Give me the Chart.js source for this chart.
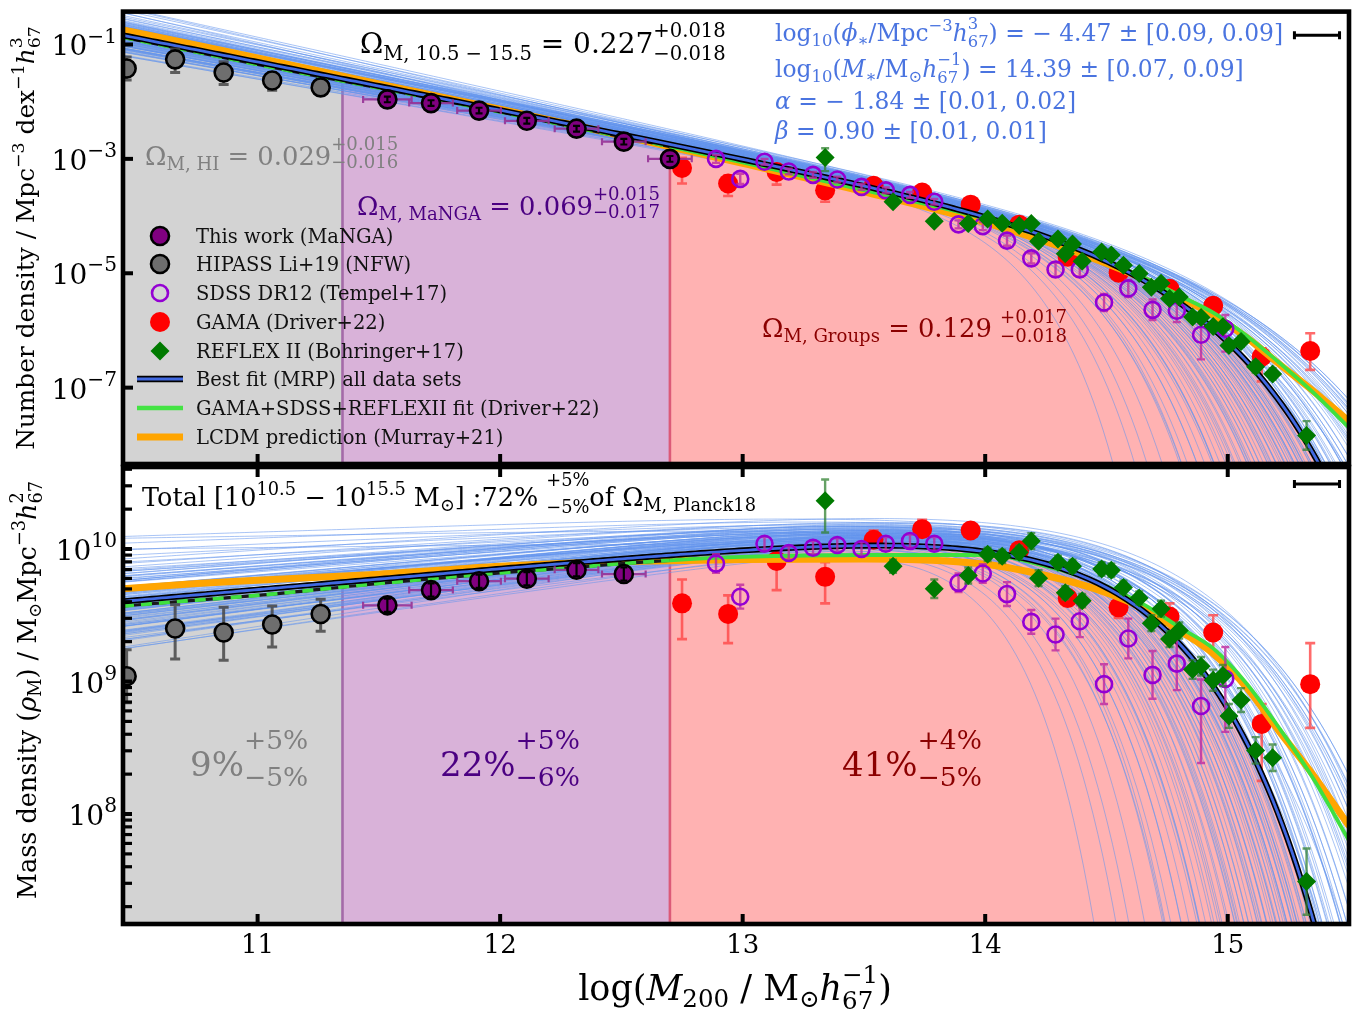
<!DOCTYPE html>
<html>
<head>
<meta charset="utf-8">
<script src="https://cdn.jsdelivr.net/npm/chart.js@4.4.0/dist/chart.umd.min.js"></script>
<style>
  body { margin: 0; background: #fff; }
  #wrap { position: relative; width: 1366px; height: 1015px; }
  #wrap canvas { position: absolute; left: 0; top: 0; }
</style>
</head>
<body>
<div id="wrap">
  <canvas id="numberPanel" width="1366" height="1015"></canvas>
  <canvas id="massPanel" width="1366" height="1015"></canvas>
</div>
<script>
const FONT = '"DejaVu Serif", "Liberation Serif", serif';
Chart.defaults.font.family = FONT;

const X_MIN = 10.445, X_MAX = 15.5;

// best fit MRP parameters (all data sets)
const fitLogPhi = -4.47, fitLogMstar = 14.39, fitAlpha = -1.84, fitBeta = 0.90;

// mass ranges: HI / MaNGA / groups
const regionEdges = [X_MIN, 11.35, 12.70, X_MAX];
const regionColors = ['#d3d3d3', '#d9b2d9', '#ffb2b2'];
const regionEdgeColors = [null, '#a46aa8', '#dc5a78'];

// HIPASS Li+19 (NFW), log10 mass density
const hipassX = [10.46, 10.66, 10.86, 11.06, 11.26];
const hipassRho = [9.04, 9.40, 9.37, 9.43, 9.51];
const hipassLo = [0.20, 0.23, 0.21, 0.17, 0.13];
const hipassHi = [0.20, 0.18, 0.19, 0.14, 0.11];

// This work (MaNGA)
const mangaX = [11.535, 11.715, 11.913, 12.11, 12.315, 12.51, 12.70];
const mangaRho = [9.575, 9.69, 9.757, 9.776, 9.843, 9.811, 9.70];
const mangaXErr = [0.10, 0.09, 0.09, 0.09, 0.09, 0.09, 0.09];
const mangaYErr = [0.05, 0.05, 0.05, 0.05, 0.05, 0.05, 0.05];
const mangaMassCount = 6;

// SDSS DR12 (Tempel+17)
const sdssX = [12.89, 12.99, 13.09, 13.19, 13.29, 13.39, 13.49, 13.59, 13.69, 13.79, 13.89,
               13.99, 14.09, 14.19, 14.29, 14.39, 14.49, 14.59, 14.69, 14.79, 14.89, 14.99];
const sdssRho = [9.89, 9.64, 10.04, 9.97, 10.01, 10.03, 10.00, 10.04, 10.06, 10.04, 9.745,
                 9.815, 9.66, 9.45, 9.355, 9.455, 8.98, 9.325, 9.05, 9.135, 8.815, 9.02];
const sdssLo = [0.07, 0.09, 0.05, 0.05, 0.05, 0.05, 0.05, 0.05, 0.05, 0.05, 0.07,
                0.07, 0.09, 0.09, 0.12, 0.12, 0.15, 0.15, 0.18, 0.20, 0.43, 0.40];
const sdssHi = [0.07, 0.09, 0.05, 0.05, 0.05, 0.05, 0.05, 0.05, 0.05, 0.05, 0.07,
                0.07, 0.09, 0.09, 0.12, 0.12, 0.15, 0.15, 0.18, 0.20, 0.20, 0.24];

// GAMA (Driver+22)
const gamaX = [12.75, 12.94, 13.14, 13.34, 13.54, 13.74, 13.94, 14.14, 14.34, 14.55, 14.76, 14.94, 15.14, 15.34];
const gamaRho = [9.59, 9.51, 9.91, 9.79, 10.07, 10.15, 10.14, 9.99, 9.63, 9.56, 9.49, 9.37, 8.68, 8.98];
const gamaLo = [0.27, 0.22, 0.22, 0.20, 0.06, 0.05, 0.05, 0.05, 0.06, 0.08, 0.10, 0.15, 0.43, 0.33];
const gamaHi = [0.18, 0.14, 0.10, 0.11, 0.07, 0.07, 0.05, 0.05, 0.06, 0.08, 0.10, 0.13, 0.15, 0.31];

// REFLEX II (Bohringer+17)
const reflexX = [13.34, 13.62, 13.79, 13.93, 14.01, 14.07, 14.14, 14.19, 14.22, 14.30, 14.33, 14.36, 14.40, 14.48, 14.52,
                 14.57, 14.635, 14.685, 14.725, 14.76, 14.80, 14.855, 14.89, 14.94, 14.98, 15.005, 15.055, 15.115, 15.185, 15.325];
const reflexRho = [10.365, 9.87, 9.70, 9.80, 9.96, 9.945, 9.975, 10.06, 9.78, 9.90, 9.67, 9.87, 9.61, 9.85, 9.84,
                   9.71, 9.63, 9.44, 9.55, 9.32, 9.385, 9.09, 9.115, 9.01, 9.045, 8.74, 8.86, 8.48, 8.425, 7.49];
const reflexLo = [0.24, 0.05, 0.07, 0.06, 0.05, 0.05, 0.05, 0.06, 0.06, 0.05, 0.05, 0.05, 0.05, 0.05, 0.05,
                  0.05, 0.05, 0.06, 0.06, 0.06, 0.06, 0.07, 0.07, 0.08, 0.08, 0.09, 0.09, 0.10, 0.10, 0.25];
const reflexHi = [0.16, 0.05, 0.07, 0.06, 0.05, 0.05, 0.05, 0.06, 0.06, 0.05, 0.05, 0.05, 0.05, 0.05, 0.05,
                  0.05, 0.05, 0.06, 0.06, 0.06, 0.06, 0.07, 0.07, 0.08, 0.08, 0.09, 0.09, 0.10, 0.10, 0.25];

// GAMA+SDSS+REFLEXII fit and LCDM prediction, log10 mass density
const curveX = [10.445, 10.75, 11.0, 11.5, 12.0, 12.3, 12.5, 12.7, 13.0, 13.5, 14.0, 14.25, 14.46,
                14.66, 14.8, 14.94, 15.08, 15.21, 15.35, 15.5];
const driverRho = [9.57, 9.615, 9.65, 9.74, 9.82, 9.86, 9.89, 9.915, 9.94, 9.955, 9.955, 9.87, 9.75,
                   9.575, 9.41, 9.25, 8.98, 8.655, 8.275, 7.80];
const lcdmRho = [9.70, 9.74, 9.765, 9.81, 9.87, 9.895, 9.905, 9.912, 9.92, 9.925, 9.885, 9.80, 9.695,
                 9.545, 9.385, 9.21, 8.95, 8.63, 8.30, 7.91];
const driverDashedBelow = 12.70;

// fit draws: mass density at the pivot mass, M*, alpha, beta
const PIVOT_X = 13.5;
const samplePivot = [10.07, 10.10, 10.03, 10.13, 10.05, 10.16, 10.01, 10.09, 10.12, 10.06, 10.18, 10.04, 10.11, 10.08,
  10.14, 10.02, 10.20, 10.07, 10.10, 10.15, 10.05, 10.09, 10.00, 10.17, 10.11, 10.08, 10.13, 10.04, 10.06, 10.19,
  10.10, 10.07, 10.12, 10.03, 10.16, 10.09, 10.23, 10.05, 10.14, 10.11,
  10.00, 10.06, 9.96, 10.10, 10.03, 9.93, 10.08, 10.01, 10.12, 9.98, 10.05, 10.02,
  10.08, 10.13, 10.05, 10.17, 10.10, 10.07, 10.20, 10.12, 10.15, 10.05, 10.18, 10.09, 10.14, 10.22,
  10.04, 9.98, 10.10, 10.02, 10.00, 10.07,
  10.08, 10.12, 10.04, 10.15, 10.06, 10.10, 10.02, 10.13, 10.09, 10.17, 10.05, 10.11, 10.07, 10.14, 10.03, 10.10,
  10.16, 10.08, 10.12, 10.06, 10.19, 10.09, 10.04, 10.13, 10.07, 10.11, 10.15, 10.05, 10.10, 10.08, 10.02, 10.14,
  10.06, 10.12, 10.09, 10.17];
const sampleMstar = [14.39, 14.42, 14.33, 14.47, 14.36, 14.50, 14.30, 14.44, 14.38, 14.34, 14.52, 14.31, 14.41, 14.37,
  14.46, 14.28, 14.55, 14.35, 14.40, 14.48, 14.32, 14.43, 14.27, 14.51, 14.39, 14.36, 14.45, 14.29, 14.38, 14.53,
  14.42, 14.34, 14.46, 14.30, 14.49, 14.40, 14.57, 14.33, 14.44, 14.41,
  14.05, 14.12, 13.95, 14.18, 14.08, 13.90, 14.15, 14.02, 14.20, 13.98, 14.10, 14.06,
  14.56, 14.59, 14.54, 14.61, 14.57, 14.55, 14.62, 14.58, 14.60, 14.53, 14.61, 14.56, 14.59, 14.62,
  14.30, 14.45, 14.40, 14.35, 14.50, 14.38,
  14.20, 14.25, 14.15, 14.30, 14.22, 14.18, 14.10, 14.28, 14.24, 14.32, 14.12, 14.26, 14.21, 14.29, 14.08, 14.23,
  14.34, 14.19, 14.27, 14.16, 14.36, 14.25, 14.14, 14.30, 14.20, 14.26, 14.33, 14.13, 14.24, 14.22, 14.05, 14.31,
  14.17, 14.28, 14.23, 14.35];
const sampleAlpha = [-1.79, -1.81, -1.76, -1.83, -1.78, -1.85, -1.75, -1.80, -1.82, -1.77, -1.86, -1.74, -1.81, -1.79,
  -1.84, -1.76, -1.87, -1.78, -1.80, -1.83, -1.77, -1.81, -1.73, -1.85, -1.79, -1.78, -1.82, -1.75, -1.80, -1.84,
  -1.81, -1.77, -1.83, -1.74, -1.86, -1.79, -1.88, -1.76, -1.82, -1.80,
  -1.81, -1.84, -1.78, -1.86, -1.82, -1.77, -1.85, -1.80, -1.87, -1.79, -1.83, -1.82,
  -1.86, -1.89, -1.83, -1.91, -1.85, -1.84, -1.93, -1.87, -1.90, -1.82, -1.92, -1.86, -1.88, -1.94,
  -1.72, -1.74, -1.97, -1.76, -1.98, -1.75,
  -1.80, -1.83, -1.77, -1.85, -1.79, -1.82, -1.76, -1.84, -1.81, -1.86, -1.78, -1.83, -1.80, -1.85, -1.77, -1.82,
  -1.87, -1.79, -1.83, -1.78, -1.88, -1.81, -1.77, -1.84, -1.80, -1.82, -1.86, -1.78, -1.81, -1.80, -1.76, -1.85,
  -1.79, -1.83, -1.81, -1.87];
const sampleBeta = [0.90, 0.88, 0.95, 0.85, 0.92, 0.84, 0.98, 0.87, 0.91, 0.94, 0.82, 0.97, 0.89, 0.93,
  0.86, 1.00, 0.80, 0.95, 0.90, 0.86, 0.96, 0.88, 1.02, 0.83, 0.91, 0.93, 0.87, 0.99, 0.92, 0.82,
  0.89, 0.94, 0.86, 0.97, 0.84, 0.90, 0.79, 0.95, 0.87, 0.89,
  1.25, 1.15, 1.45, 1.10, 1.30, 1.55, 1.18, 1.35, 1.08, 1.40, 1.22, 1.28,
  0.82, 0.80, 0.85, 0.79, 0.82, 0.84, 0.78, 0.81, 0.80, 0.85, 0.79, 0.83, 0.80, 0.78,
  0.95, 0.88, 0.86, 0.92, 0.85, 0.90,
  1.05, 1.00, 1.12, 0.98, 1.06, 1.10, 1.18, 1.00, 1.04, 0.96, 1.15, 1.02, 1.07, 0.99, 1.20, 1.05,
  0.95, 1.09, 1.01, 1.12, 0.94, 1.03, 1.14, 0.98, 1.06, 1.02, 0.96, 1.16, 1.04, 1.07, 1.22, 0.97,
  1.11, 1.00, 1.05, 0.95];

// typical mass error bar, top right corner of each panel
const massBarX = 15.368, massBarHalf = 0.093;
const massBarY = { n: -0.84, rho: 10.49 };

const legendLabels = ['This work (MaNGA)', 'HIPASS Li+19 (NFW)', 'SDSS DR12 (Tempel+17)', 'GAMA (Driver+22)',
  'REFLEX II (Bohringer+17)', 'Best fit (MRP) all data sets', 'GAMA+SDSS+REFLEXII fit (Driver+22)', 'LCDM prediction (Murray+21)'];

// panel geometry: y range in log10
const panels = {
  n:   { yMin: -8.335, yMax: -0.425, pad: { left: 123, right: 17, top: 6, bottom: 551 } },
  rho: { yMin: 7.17,   yMax: 10.619, pad: { left: 123, right: 17, top: 467, bottom: 91 } }
};

function logN(x, lphi, lm, a, b) {
  const r = x - lm;
  return Math.log10(b * Math.LN10) + lphi + (a + 1) * r - Math.pow(10, b * r) / Math.LN10;
}
const fitLogRho = x => logN(x, fitLogPhi, fitLogMstar, fitAlpha, fitBeta) + x;

const gridX = [];
for (let i = 0; ; i++) {
  const x = +(X_MIN + i * 0.02).toFixed(4);
  if (x >= X_MAX) break;
  gridX.push(x);
}
gridX.push(X_MAX);

function font(size, italic) { return (italic ? 'italic ' : '') + size.toFixed(1) + 'px ' + FONT; }

function mathBoxes(ctx, toks, size) {
  return toks.map(t => {
    let parts;
    if (typeof t === 'string') parts = [{ s: t, k: 1, dy: 0, it: false }];
    else if (t.it !== undefined) parts = [{ s: t.it, k: 1, dy: 0, it: true }];
    else if (t.sup !== undefined) parts = [{ s: t.sup, k: t.k || 0.7, dy: -(t.up || 0.42), it: !!t.i }];
    else if (t.sub !== undefined) parts = [{ s: t.sub, k: t.k || 0.7, dy: t.down || 0.2, it: !!t.i }];
    else parts = [{ s: t.both[0], k: t.k || 0.7, dy: -(t.up || 0.56) }, { s: t.both[1], k: t.k || 0.7, dy: t.down || 0.24 }];
    let w = 0;
    parts.forEach(p => { ctx.font = font(size * p.k, p.it); p.w = ctx.measureText(p.s).width; w = Math.max(w, p.w); });
    return { parts, w: w + (t.pad || 0) };
  });
}

function drawMath(ctx, toks, x, y, size, color, align) {
  const boxes = mathBoxes(ctx, toks, size);
  const total = boxes.reduce((s, b) => s + b.w, 0);
  let cx = align === 'center' ? x - total / 2 : align === 'right' ? x - total : x;
  ctx.fillStyle = color;
  ctx.textAlign = 'left';
  ctx.textBaseline = 'alphabetic';
  boxes.forEach(b => {
    b.parts.forEach(p => { ctx.font = font(size * p.k, p.it); ctx.fillText(p.s, cx, y + p.dy * size); });
    cx += b.w;
  });
}

function capBar(ctx, x1, y1, x2, y2, cap) {
  ctx.beginPath();
  ctx.moveTo(x1, y1); ctx.lineTo(x2, y2);
  if (x1 === x2) {
    ctx.moveTo(x1 - cap, y1); ctx.lineTo(x1 + cap, y1);
    ctx.moveTo(x2 - cap, y2); ctx.lineTo(x2 + cap, y2);
  } else {
    ctx.moveTo(x1, y1 - cap); ctx.lineTo(x1, y1 + cap);
    ctx.moveTo(x2, y2 - cap); ctx.lineTo(x2, y2 + cap);
  }
  ctx.stroke();
}

function drawErrors(chart, ds, onTop) {
  const e = ds.err;
  if (!e) return;
  const ctx = chart.ctx, xs = chart.scales.x, ys = chart.scales.y, ca = chart.chartArea;
  ctx.save();
  ctx.beginPath();
  ctx.rect(ca.left, ca.top, ca.right - ca.left, ca.bottom - ca.top);
  ctx.clip();
  ctx.lineCap = 'butt';
  ds.data.forEach((p, i) => {
    const px = xs.getPixelForValue(p.x), py = ys.getPixelForValue(p.y);
    if (!onTop && e.xErr) {
      ctx.strokeStyle = e.xColor; ctx.lineWidth = e.width;
      capBar(ctx, xs.getPixelForValue(p.x - e.xErr[i]), py, xs.getPixelForValue(p.x + e.xErr[i]), py, e.cap);
    }
    if (e.lo && !!e.yOnTop === onTop) {
      ctx.strokeStyle = e.color; ctx.lineWidth = e.width;
      const yl = ys.getPixelForValue(p.y / Math.pow(10, e.lo[i]));
      const yh = ys.getPixelForValue(p.y * Math.pow(10, e.hi[i]));
      capBar(ctx, px, yh, px, yl, e.cap);
    }
  });
  ctx.restore();
}

function buildDatasets(panel) {
  const P = panels[panel];
  const val = (lr, x) => Math.pow(10, Math.max(panel === 'n' ? lr - x : lr, -60));
  const pts = (xs, rs) => xs.map((x, i) => ({ x, y: val(rs[i], x) }));
  const ds = [];

  // shaded mass ranges under the best fit
  for (let k = 0; k < 3; k++) {
    const a = regionEdges[k], b = regionEdges[k + 1];
    const xs = [a, ...gridX.filter(x => x > a && x < b), b];
    ds.push({ type: 'line', data: xs.map(x => ({ x, y: val(fitLogRho(x), x) })), fill: 'start',
      backgroundColor: regionColors[k], borderColor: 'rgba(0,0,0,0)', borderWidth: 0, pointRadius: 0, order: 100 });
    if (regionEdgeColors[k]) {
      ds.push({ type: 'line', data: [{ x: a, y: Math.pow(10, P.yMin) }, { x: a, y: val(fitLogRho(a), a) }],
        borderColor: regionEdgeColors[k], borderWidth: 2.6, pointRadius: 0, order: 99 });
    }
  }

  // fit draws
  for (let s = 0; s < samplePivot.length; s++) {
    const lm = sampleMstar[s], a = sampleAlpha[s], b = sampleBeta[s];
    const lphi = samplePivot[s] - PIVOT_X - logN(PIVOT_X, 0, lm, a, b);
    ds.push({ type: 'line', data: gridX.map(x => ({ x, y: val(logN(x, lphi, lm, a, b) + x, x) })),
      borderColor: 'rgba(100,149,237,0.62)', borderWidth: 0.9, pointRadius: 0, order: 90 });
  }

  ds.push({ data: pts(gamaX, gamaRho), showLine: false, pointStyle: 'circle', pointRadius: 10,
    backgroundColor: '#ff0000', borderWidth: 0, order: 60,
    err: { lo: gamaLo, hi: gamaHi, color: 'rgba(255,70,70,0.8)', width: 2.6, cap: 5 } });

  // LCDM prediction
  ds.push({ type: 'line', data: pts(curveX, lcdmRho), borderColor: '#ffa500', borderWidth: 7,
    pointRadius: 0, cubicInterpolationMode: 'monotone', order: 55 });

  // GAMA+SDSS+REFLEXII fit, dashed outside the group range
  const dashIdx = curveX.filter(x => x <= driverDashedBelow).length;
  ds.push({ type: 'line', data: pts(curveX.slice(0, dashIdx), driverRho.slice(0, dashIdx)), borderColor: '#1a1a1a',
    borderWidth: 3.2, pointRadius: 0, cubicInterpolationMode: 'monotone', order: 54 });
  ds.push({ type: 'line', data: pts(curveX, driverRho), borderColor: '#3fe03f', borderWidth: 3.8,
    pointRadius: 0, cubicInterpolationMode: 'monotone', order: 53,
    segment: { borderDash: c => (c.p1.parsed.x <= driverDashedBelow + 1e-6 ? [11, 7] : undefined) } });

  // best fit
  const fitPts = gridX.map(x => ({ x, y: val(fitLogRho(x), x) }));
  ds.push({ type: 'line', data: fitPts, borderColor: '#000', borderWidth: 6, pointRadius: 0, order: 52 });
  ds.push({ type: 'line', data: fitPts, borderColor: '#4169e1', borderWidth: 2.8, pointRadius: 0, order: 51 });

  ds.push({ data: pts(sdssX, sdssRho), showLine: false, pointStyle: 'circle', pointRadius: 8,
    backgroundColor: 'rgba(0,0,0,0)', borderColor: '#9400d3', borderWidth: 2.6, order: 45,
    err: { lo: sdssLo, hi: sdssHi, color: 'rgba(190,40,160,0.8)', width: 2.4, cap: 4 } });

  ds.push({ data: pts(reflexX, reflexRho), showLine: false, pointStyle: 'rectRot', pointRadius: 9.5,
    backgroundColor: '#007a00', borderWidth: 0, order: 44,
    err: { lo: reflexLo, hi: reflexHi, color: 'rgba(50,130,50,0.75)', width: 2.4, cap: 4 } });

  const nManga = panel === 'n' ? mangaX.length : mangaMassCount;
  ds.push({ data: pts(mangaX.slice(0, nManga), mangaRho), showLine: false, pointStyle: 'circle', pointRadius: 9,
    backgroundColor: '#800080', borderColor: '#000', borderWidth: 2.6, order: 42,
    err: { xErr: mangaXErr, xColor: 'rgba(150,50,150,0.9)', lo: mangaYErr, hi: mangaYErr,
      color: '#000', yOnTop: true, width: 2.2, cap: 3.5 } });

  ds.push({ data: pts(hipassX, hipassRho), showLine: false, pointStyle: 'circle', pointRadius: 9,
    backgroundColor: '#6e6e6e', borderColor: '#000', borderWidth: 2.6, order: 41,
    err: { lo: hipassLo, hi: hipassHi, color: 'rgba(70,70,70,0.85)', width: 3, cap: 5 } });

  ds.forEach(d => { d.clip = 0; if (!d.type) d.type = 'line'; });
  return ds;
}

function drawFrame(chart, panel) {
  const ctx = chart.ctx, ca = chart.chartArea, xs = chart.scales.x, ys = chart.scales.y;
  ctx.save();
  ctx.strokeStyle = '#000';
  ctx.lineWidth = 4.6;
  ctx.strokeRect(ca.left, ca.top, ca.right - ca.left, ca.bottom - ca.top);
  ctx.lineCap = 'butt';
  ctx.lineWidth = 4;
  [11, 12, 13, 14, 15].forEach(v => {
    const px = xs.getPixelForValue(v);
    ctx.beginPath(); ctx.moveTo(px, ca.bottom); ctx.lineTo(px, ca.bottom - 10); ctx.stroke();
    if (panel === 'rho') { ctx.beginPath(); ctx.moveTo(px, ca.top); ctx.lineTo(px, ca.top + 10); ctx.stroke(); }
  });
  if (panel === 'n') {
    [-1, -3, -5, -7].forEach(d => {
      const py = ys.getPixelForValue(Math.pow(10, d));
      ctx.lineWidth = 4;
      ctx.beginPath(); ctx.moveTo(ca.left, py); ctx.lineTo(ca.left + 10, py); ctx.stroke();
      drawMath(ctx, ['10', { sup: '−' + (-d), k: 0.72, up: 0.46 }], 117, py + 11, 28, '#000', 'right');
    });
  } else {
    for (let d = 7; d <= 10; d++) {
      for (let k = 1; k <= 9; k++) {
        const v = k * Math.pow(10, d);
        if (v < Math.pow(10, panels.rho.yMin) || v > Math.pow(10, panels.rho.yMax)) continue;
        const py = ys.getPixelForValue(v);
        ctx.lineWidth = k === 1 ? 4 : 3.2;
        ctx.beginPath(); ctx.moveTo(ca.left, py); ctx.lineTo(ca.left + 9, py); ctx.stroke();
        if (k === 1) drawMath(ctx, ['10', { sup: String(d), k: 0.72, up: 0.46 }], 117, py + 11, 28, '#000', 'right');
      }
    }
    [11, 12, 13, 14, 15].forEach(v => {
      ctx.font = font(26, false); ctx.fillStyle = '#000'; ctx.textAlign = 'center'; ctx.textBaseline = 'alphabetic';
      ctx.fillText(String(v), xs.getPixelForValue(v), 953);
    });
  }
  // typical mass uncertainty
  const by = ys.getPixelForValue(Math.pow(10, massBarY[panel]));
  ctx.lineWidth = 3;
  capBar(ctx, xs.getPixelForValue(massBarX - massBarHalf), by, xs.getPixelForValue(massBarX + massBarHalf), by, 4);
  ctx.restore();
}

function drawLegend(ctx) {
  const rows = [236, 264, 293, 322, 351, 379, 408, 437];
  const mx = 160;
  ctx.save();
  const disc = (y, r, fill, edge) => {
    ctx.beginPath(); ctx.arc(mx, y, r, 0, Math.PI * 2);
    if (fill) { ctx.fillStyle = fill; ctx.fill(); }
    if (edge) { ctx.strokeStyle = edge; ctx.lineWidth = 2.6; ctx.stroke(); }
  };
  disc(rows[0], 9, '#800080', '#000');
  disc(rows[1], 9, '#6e6e6e', '#000');
  disc(rows[2], 8, null, '#9400d3');
  disc(rows[3], 10, '#ff0000', null);
  ctx.fillStyle = '#007a00';
  ctx.beginPath();
  ctx.moveTo(mx, rows[4] - 9.5); ctx.lineTo(mx + 9.5, rows[4]); ctx.lineTo(mx, rows[4] + 9.5); ctx.lineTo(mx - 9.5, rows[4]);
  ctx.closePath(); ctx.fill();
  const seg = (y, color, w) => {
    ctx.strokeStyle = color; ctx.lineWidth = w; ctx.lineCap = 'butt';
    ctx.beginPath(); ctx.moveTo(137, y); ctx.lineTo(183, y); ctx.stroke();
  };
  seg(rows[5], '#000', 6.4); seg(rows[5], '#4169e1', 3);
  seg(rows[6], '#44e344', 4.4);
  seg(rows[7], '#ffa500', 7);
  legendLabels.forEach((t, i) => {
    ctx.font = font(19.5, false); ctx.fillStyle = '#111'; ctx.textAlign = 'left'; ctx.textBaseline = 'alphabetic';
    ctx.fillText(t, 196, rows[i] + 7);
  });
  ctx.restore();
}

function drawNumberText(ctx) {
  drawMath(ctx, ['Ω', { sub: 'M, 10.5 − 15.5', down: 0.24 }, ' = 0.227', { both: ['+0.018', '−0.018'] }], 360, 53, 28, '#000');
  const blue = '#4a74e0', bs = 23.4;
  drawMath(ctx, ['log', { sub: '10' }, '(', { it: 'ϕ' }, { sub: '∗' }, '/Mpc', { sup: '−3' }, { it: 'h' },
    { both: ['3', '67'], up: 0.5, down: 0.25 }, ') = − 4.47 ± [0.09, 0.09]'], 775, 41, bs, blue);
  drawMath(ctx, ['log', { sub: '10' }, '(', { it: 'M' }, { sub: '∗' }, '/M', { sub: '⊙' }, { it: 'h' },
    { both: ['−1', '67'], up: 0.5, down: 0.25 }, ') = 14.39 ± [0.07, 0.09]'], 775, 77, bs, blue);
  drawMath(ctx, [{ it: 'α' }, ' = − 1.84 ± [0.01, 0.02]'], 775, 109, bs, blue);
  drawMath(ctx, [{ it: 'β' }, ' = 0.90 ± [0.01, 0.01]'], 775, 139, bs, blue);
  drawMath(ctx, ['Ω', { sub: 'M, HI' }, ' = 0.029', { both: ['+0.015', '−0.016'], up: 0.6, down: 0.12 }], 145, 165, 25.8, '#808080');
  drawMath(ctx, ['Ω', { sub: 'M, MaNGA' }, ' = 0.069', { both: ['+0.015', '−0.017'], up: 0.6, down: 0.12 }], 357, 215, 25.8, '#4b0082');
  drawMath(ctx, ['Ω', { sub: 'M, Groups' }, ' = 0.129 ', { both: ['+0.017', '−0.018'], up: 0.56, down: 0.2 }], 762, 337, 25.8, '#8b0000');
  ctx.save();
  ctx.translate(34, 238); ctx.rotate(-Math.PI / 2);
  drawMath(ctx, ['Number density / Mpc', { sup: '−3' }, ' dex', { sup: '−1' }, { it: 'h' }, { both: ['3', '67'], up: 0.5, down: 0.25 }],
    0, 0, 24.8, '#000', 'center');
  ctx.restore();
}

function drawMassText(ctx) {
  drawMath(ctx, ['Total [10', { sup: '10.5' }, ' − 10', { sup: '15.5' }, ' M', { sub: '⊙' }, '] :72% ',
    { both: ['+5%', '−5%'], up: 0.8, down: 0.26 }, 'of Ω', { sub: 'M, Planck18' }], 142, 506, 25.5, '#000');
  const pct = (txt, up, dn, x, color) => drawMath(ctx, [txt, { both: [up, dn], k: 0.78, up: 0.78, down: 0.3 }], x, 776, 34, color);
  pct('9%', '+5%', '−5%', 190, '#808080');
  pct('22%', '+5%', '−6%', 440, '#4b0082');
  pct('41%', '+4%', '−5%', 842, '#8b0000');
  ctx.save();
  ctx.translate(36, 690); ctx.rotate(-Math.PI / 2);
  drawMath(ctx, ['Mass density (', { it: 'ρ' }, { sub: 'M' }, ') / M', { sub: '⊙' }, 'Mpc', { sup: '−3' }, { it: 'h' },
    { both: ['2', '67'], up: 0.5, down: 0.25 }], 0, 0, 25.5, '#000', 'center');
  ctx.restore();
  drawMath(ctx, ['log(', { it: 'M' }, { sub: '200' }, ' / M', { sub: '⊙' }, { it: 'h' }, { both: ['−1', '67'], up: 0.5, down: 0.26 }, ')'],
    735, 1000, 35, '#000', 'center');
}

const decor = {
  id: 'decor',
  beforeDatasetDraw(chart, args) { drawErrors(chart, chart.data.datasets[args.index], false); },
  afterDatasetDraw(chart, args) { drawErrors(chart, chart.data.datasets[args.index], true); },
  afterDraw(chart) {
    const panel = chart.options.plugins.decor.panel;
    drawFrame(chart, panel);
    if (panel === 'n') { drawNumberText(chart.ctx); drawLegend(chart.ctx); }
    else drawMassText(chart.ctx);
  }
};

function makeChart(id, panel) {
  const P = panels[panel];
  return new Chart(document.getElementById(id), {
    type: 'line',
    data: { datasets: buildDatasets(panel) },
    options: {
      responsive: false,
      animation: false,
      events: [],
      layout: { padding: P.pad },
      elements: { line: { tension: 0 } },
      scales: {
        x: { type: 'linear', min: X_MIN, max: X_MAX, display: false },
        y: { type: 'logarithmic', min: Math.pow(10, P.yMin), max: Math.pow(10, P.yMax), display: false }
      },
      plugins: { legend: { display: false }, tooltip: { enabled: false }, decor: { panel } }
    },
    plugins: [decor]
  });
}

makeChart('numberPanel', 'n');
makeChart('massPanel', 'rho');
</script>
</body>
</html>
